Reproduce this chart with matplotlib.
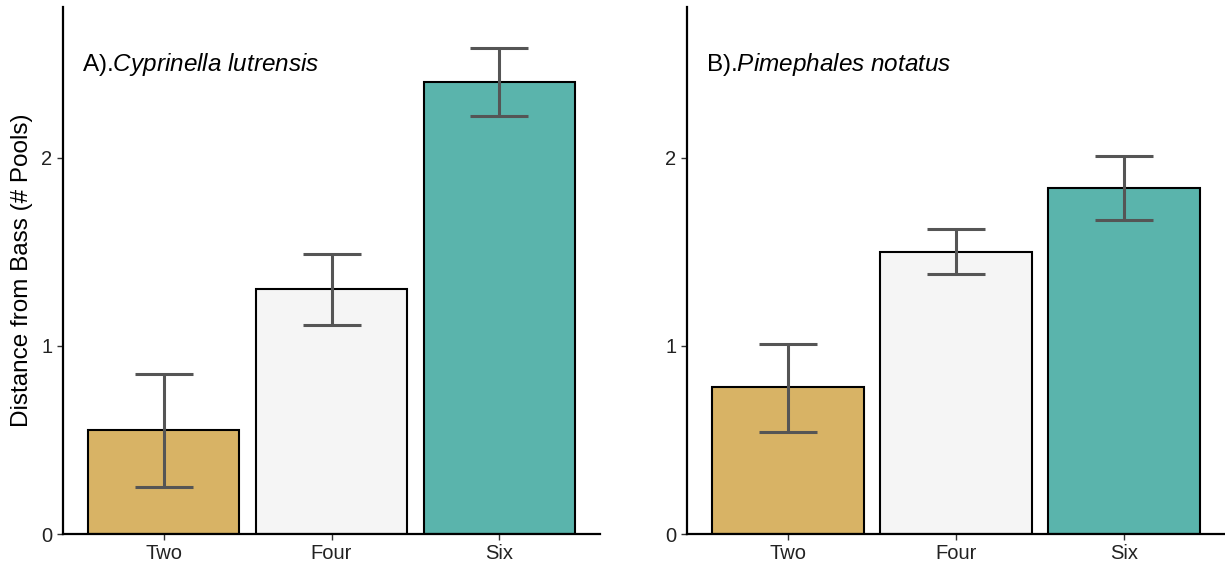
import matplotlib.pyplot as plt

plt.rcParams['font.family'] = 'Liberation Sans'
plt.rcParams['mathtext.fontset'] = 'custom'
plt.rcParams['mathtext.it'] = 'Liberation Sans:italic'
plt.rcParams['mathtext.rm'] = 'Liberation Sans'

groups = ['Two', 'Four', 'Six']
colors = ['#D8B365', '#F5F5F5', '#5AB4AC']

# mean distance and error bar limits per panel
cyp_mean = [0.55, 1.30, 2.40]
cyp_lo = [0.25, 1.11, 2.22]
cyp_hi = [0.85, 1.49, 2.58]

pim_mean = [0.78, 1.50, 1.84]
pim_lo = [0.54, 1.38, 1.67]
pim_hi = [1.01, 1.62, 2.01]

panels = [
    ('A).', 'Cyprinella\\ lutrensis', cyp_mean, cyp_lo, cyp_hi),
    ('B).', 'Pimephales\\ notatus', pim_mean, pim_lo, pim_hi),
]

fig = plt.figure(figsize=(12.25, 5.69), dpi=100)
W, H = 1225, 569
boxes = [(63, 600), (687, 1225)]
top, bot = 7, 534

for (x0, x1), (tag, sp, m, lo, hi) in zip(boxes, panels):
    ax = fig.add_axes([x0 / W, (H - bot) / H, (x1 - x0) / W, (bot - top) / H])
    x = range(len(groups))
    ax.bar(x, m, width=0.9, color=colors, edgecolor='black', linewidth=1.5, zorder=2)
    err = [[mi - l for mi, l in zip(m, lo)], [h - mi for mi, h in zip(m, hi)]]
    ax.errorbar(x, m, yerr=err, fmt='none', ecolor='#555555', elinewidth=2.2,
                capsize=21, capthick=2.2, zorder=3)
    ax.set_xlim(-0.6, 2.6)
    ax.set_ylim(0, 2.8)
    ax.set_xticks(list(x))
    ax.set_xticklabels(groups)
    ax.set_yticks([0, 1, 2])
    ax.tick_params(labelsize=14.5, length=4, width=1, color='#333333', labelcolor='#222222')
    for s in ['top', 'right']:
        ax.spines[s].set_visible(False)
    for s in ['left', 'bottom']:
        ax.spines[s].set_linewidth(1.6)
    ax.text(0.035, 0.89, tag + '$\\it{' + sp + '}$', transform=ax.transAxes,
            fontsize=17.5, va='center', ha='left')
    if tag == 'A).':
        ax.set_ylabel('Distance from Bass (# Pools)', fontsize=17.5, labelpad=6)

fig.savefig('out.png', dpi=100)
